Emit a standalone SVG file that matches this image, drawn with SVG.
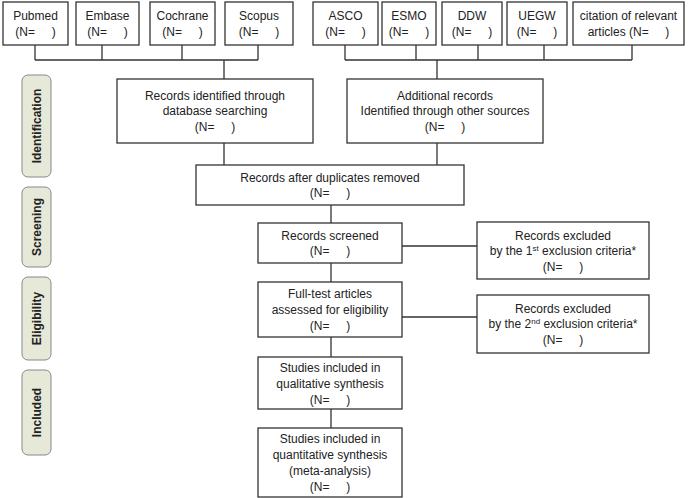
<svg xmlns="http://www.w3.org/2000/svg" width="690" height="498" viewBox="0 0 690 498">
<style>
.b{fill:#fff;stroke:#333;stroke-width:1.3}
.t{font-family:"Liberation Sans",Arial,sans-serif;font-size:12px;fill:#222;text-anchor:middle;white-space:pre}
.s{fill:#e6e9d8;stroke:#888;stroke-width:1}
.st{font-family:"Liberation Sans",Arial,sans-serif;font-size:12px;font-weight:bold;fill:#222;text-anchor:middle}
.c{fill:none;stroke:#333;stroke-width:1.3}
</style>
<rect width="690" height="498" fill="#fff"/>
<g id="connectors">
<path class="c" d="M35 45V60M102 45V60M182 45V60M258 45V60M35 60H258M224 60V79"/>
<path class="c" d="M345 45V60M416 45V60M478 45V60M544 45V60M632 45V60M345 60H632M437 60V79"/>
<path class="c" d="M224 143V165M437 143V165M331 205V223M331 263V282M331 337V357M331 409V428M402 246H477M402 317H477"/>
</g>
<g id="lbl-identification"><rect class="s" x="22" y="75" width="29" height="102" rx="6"/><text class="st" transform="translate(41 126) rotate(-90)">Identification</text></g>
<g id="lbl-screening"><rect class="s" x="22" y="187" width="29" height="80" rx="6"/><text class="st" transform="translate(41 227) rotate(-90)">Screening</text></g>
<g id="lbl-eligibility"><rect class="s" x="22" y="277" width="29" height="83" rx="6"/><text class="st" transform="translate(41 318.5) rotate(-90)">Eligibility</text></g>
<g id="lbl-included"><rect class="s" x="22" y="370" width="29" height="85" rx="6"/><text class="st" transform="translate(41 412.5) rotate(-90)">Included</text></g>
<g id="pubmed"><rect class="b" x="3" y="2" width="65" height="43"/><text class="t" x="35.5" y="20">Pubmed</text><text class="t" x="35.5" y="36">(N=     )</text></g>
<g id="embase"><rect class="b" x="76" y="2" width="63" height="43"/><text class="t" x="107.5" y="20">Embase</text><text class="t" x="107.5" y="36">(N=     )</text></g>
<g id="cochrane"><rect class="b" x="150" y="2" width="65" height="43"/><text class="t" x="182.5" y="20">Cochrane</text><text class="t" x="182.5" y="36">(N=     )</text></g>
<g id="scopus"><rect class="b" x="225" y="2" width="68" height="43"/><text class="t" x="259" y="20">Scopus</text><text class="t" x="259" y="36">(N=     )</text></g>
<g id="asco"><rect class="b" x="313" y="2" width="65" height="43"/><text class="t" x="345.5" y="20">ASCO</text><text class="t" x="345.5" y="36">(N=     )</text></g>
<g id="esmo"><rect class="b" x="382" y="2" width="54" height="43"/><text class="t" x="409" y="20">ESMO</text><text class="t" x="409" y="36">(N=     )</text></g>
<g id="ddw"><rect class="b" x="442" y="2" width="60" height="43"/><text class="t" x="472" y="20">DDW</text><text class="t" x="472" y="36">(N=     )</text></g>
<g id="uegw"><rect class="b" x="507" y="2" width="60" height="43"/><text class="t" x="537" y="20">UEGW</text><text class="t" x="537" y="36">(N=     )</text></g>
<g id="citation"><rect class="b" x="573" y="2" width="111" height="43"/><text class="t" x="628.5" y="20">citation of relevant</text><text class="t" x="628.5" y="36">articles (N=     )</text></g>
<g id="identified"><rect class="b" x="117" y="79" width="196" height="64"/><text class="t" x="215" y="100">Records identified through</text><text class="t" x="215" y="115">database searching</text><text class="t" x="215" y="131">(N=     )</text></g>
<g id="additional"><rect class="b" x="347" y="79" width="196" height="64"/><text class="t" x="445" y="100">Additional records</text><text class="t" x="445" y="115">Identified through other sources</text><text class="t" x="445" y="131">(N=     )</text></g>
<g id="duplicates"><rect class="b" x="196" y="165" width="268" height="40"/><text class="t" x="330" y="182">Records after duplicates removed</text><text class="t" x="330" y="197">(N=     )</text></g>
<g id="screened"><rect class="b" x="258" y="223" width="144" height="40"/><text class="t" x="330" y="240">Records screened</text><text class="t" x="330" y="255">(N=     )</text></g>
<g id="excluded1"><rect class="b" x="477" y="222" width="172" height="57"/><text class="t" x="563" y="240">Records excluded</text><text class="t" x="563" y="255">by the 1<tspan font-size="8" dy="-4">st</tspan><tspan dy="4"> exclusion criteria*</tspan></text><text class="t" x="563" y="271">(N=     )</text></g>
<g id="fulltext"><rect class="b" x="258" y="282" width="144" height="55"/><text class="t" x="330" y="298">Full-test articles</text><text class="t" x="330" y="314">assessed for eligibility</text><text class="t" x="330" y="330">(N=     )</text></g>
<g id="excluded2"><rect class="b" x="477" y="295" width="172" height="58"/><text class="t" x="563" y="313">Records excluded</text><text class="t" x="563" y="328">by the 2<tspan font-size="8" dy="-4">nd</tspan><tspan dy="4"> exclusion criteria*</tspan></text><text class="t" x="563" y="344">(N=     )</text></g>
<g id="qualitative"><rect class="b" x="258" y="357" width="144" height="52"/><text class="t" x="330" y="372">Studies included in</text><text class="t" x="330" y="388">qualitative synthesis</text><text class="t" x="330" y="404">(N=     )</text></g>
<g id="quantitative"><rect class="b" x="258" y="428" width="144" height="69"/><text class="t" x="330" y="443">Studies included in</text><text class="t" x="330" y="459">quantitative synthesis</text><text class="t" x="330" y="475">(meta-analysis)</text><text class="t" x="330" y="491">(N=     )</text></g>
</svg>
